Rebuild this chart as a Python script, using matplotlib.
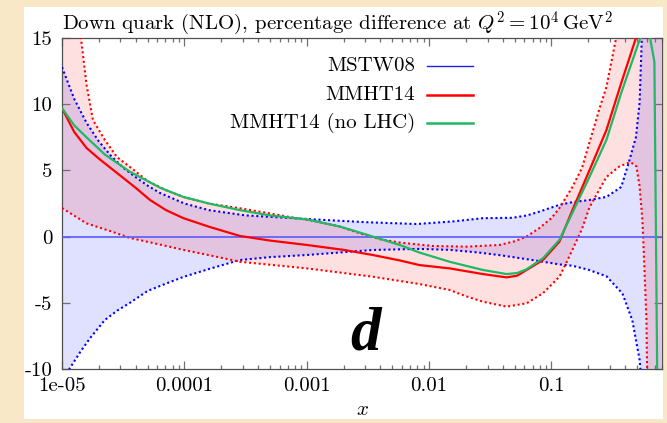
import numpy as np
import matplotlib
matplotlib.use("Agg")
import matplotlib.pyplot as plt
from matplotlib.patches import Rectangle

# ---------------- data ----------------
# x positions are given as log10(x); y is the percentage difference.
# MSTW08 band
mstw_hi_lx = [-5.0, -4.9, -4.8, -4.7, -4.6, -4.5, -4.4, -4.3, -4.2, -4.0, -3.8, -3.5, -3.0,
              -2.5, -2.1, -1.8, -1.56, -1.32, -1.2, -1.098, -0.935, -0.83, -0.7, -0.55,
              -0.43, -0.37, -0.31, -0.28, -0.26, -0.22, -0.1]
mstw_hi_y = [12.8, 10.4, 8.6, 7.2, 6.1, 5.2, 4.5, 3.85, 3.3, 2.5, 2.0, 1.6, 1.33,
             1.08, 0.95, 1.15, 1.39, 1.42, 1.6, 1.89, 2.4, 2.6, 2.75, 3.0,
             3.75, 5.55, 7.5, 10.1, 15.5, 25.0, 40.0]
mstw_lo_lx = [-5.0, -4.94, -4.85, -4.77, -4.65, -4.55, -4.445, -4.3, -4.15, -4.01, -3.8,
              -3.547, -3.3, -3.0, -2.46, -2.08, -1.833, -1.6, -1.424, -1.155, -0.935,
              -0.83, -0.7, -0.55, -0.42, -0.34, -0.28, -0.265, -0.22, -0.1]
mstw_lo_y = [-11.0, -10.0, -8.7, -7.66, -6.3, -5.6, -5.0, -4.1, -3.55, -3.05, -2.45,
             -1.77, -1.55, -1.39, -1.01, -0.93, -1.0, -1.2, -1.4, -1.77, -2.1,
             -2.2, -2.5, -3.0, -4.3, -6.3, -9.3, -11.0, -30.0, -40.0]
mstw_lx = [-5.0, -0.1]
mstw_y = [0.0, 0.0]

# MMHT14 band
mmht_hi_lx = [-5.0, -4.845, -4.8, -4.747, -4.65, -4.55, -4.445, -4.3, -4.15, -4.01, -3.8,
              -3.547, -3.3, -3.14, -2.95, -2.73, -2.55, -2.4, -2.24, -1.97, -1.694,
              -1.424, -1.3, -1.204, -1.098, -1.0, -0.935, -0.829, -0.75, -0.69, -0.6,
              -0.551, -0.502, -0.461, -0.4, -0.1]
mmht_hi_y = [26.0, 15.0, 11.5, 8.8, 7.3, 6.0, 5.26, 4.2, 3.5, 3.0, 2.5,
             2.14, 1.75, 1.48, 1.2, 0.76, 0.2, -0.2, -0.45, -0.71, -0.76,
             -0.63, -0.35, 0.0, 0.65, 1.4, 2.15, 3.75, 5.2, 7.1, 9.9,
             11.3, 13.6, 15.5, 22.0, 40.0]
mmht_lo_lx = [-5.0, -4.8, -4.6, -4.445, -4.2, -4.01, -3.8, -3.547, -3.0, -2.46, -2.08,
              -1.833, -1.7, -1.56, -1.367, -1.204, -1.07, -0.935, -0.88, -0.829, -0.75,
              -0.69, -0.6, -0.551, -0.445, -0.363, -0.33, -0.306, -0.28, -0.257, -0.24,
              -0.224, -0.218, -0.2, -0.1]
mmht_lo_y = [2.16, 1.0, 0.4, -0.1, -0.6, -1.0, -1.4, -1.9, -2.4, -3.03, -3.58,
             -4.03, -4.5, -4.92, -5.29, -5.04, -4.28, -3.03, -2.0, -1.0, 0.6,
             2.2, 3.7, 4.5, 5.3, 5.6, 5.5, 5.3, 3.8, 1.25, -2.5,
             -6.3, -10.5, -30.0, -40.0]
# MMHT14 central
mmht_lx = [-5.0, -4.9, -4.8, -4.7, -4.55, -4.4, -4.28, -4.15, -4.01, -3.8, -3.547, -3.3,
           -3.0, -2.7, -2.46, -2.24, -2.08, -1.833, -1.56, -1.367, -1.28, -1.204, -1.07,
           -0.935, -0.918, -0.829, -0.69, -0.551, -0.43, -0.31, -0.26]
mmht_y = [9.7, 7.9, 6.7, 5.9, 4.8, 3.7, 2.76, 2.0, 1.4, 0.75, 0.05, -0.3,
          -0.63, -1.0, -1.39, -1.8, -2.15, -2.4, -2.83, -3.08, -2.95, -2.52, -1.77,
          -0.38, 0.0, 2.0, 5.0, 8.05, 11.6, 15.0, 18.0]
# MMHT14 (no LHC) central
nolhc_lx = [-5.0, -4.9, -4.8, -4.65, -4.445, -4.2, -4.01, -3.8, -3.547, -3.3, -3.0,
            -2.73, -2.6, -2.46, -2.24, -2.08, -1.833, -1.56, -1.367, -1.28, -1.204,
            -1.07, -0.935, -0.829, -0.69, -0.551, -0.43, -0.282, -0.24, -0.22, -0.2,
            -0.159, -0.137, -0.13]
nolhc_y = [9.7, 8.4, 7.5, 6.2, 4.9, 3.7, 3.0, 2.5, 2.0, 1.6, 1.3,
           0.76, 0.4, 0.0, -0.63, -1.2, -1.9, -2.52, -2.83, -2.75, -2.47,
           -1.64, -0.25, 1.8, 4.5, 7.3, 10.85, 14.8, 15.5, 16.5, 15.3,
           13.2, -9.5, -14.0]

xticks = [1e-5, 1e-4, 1e-3, 1e-2, 1e-1]
xticklabels = ["1e-05", "0.0001", "0.001", "0.01", "0.1"]
yticks = [-10, -5, 0, 5, 10, 15]
yticklabels = ["-10", "-5", "0", "5", "10", "15"]

labels = ["MSTW08", "MMHT14", "MMHT14 (no LHC)"]
title = r"Down quark (NLO), percentage difference at $Q^2 = 10^4\,\mathrm{GeV}^2$"


def X(lx):
    return np.power(10.0, np.asarray(lx))


# ---------------- style ----------------
plt.rcParams["mathtext.fontset"] = "cm"
plt.rcParams["font.family"] = ["cmr10", "DejaVu Serif"]
plt.rcParams["axes.unicode_minus"] = False
FS = 15

W, H = 667, 423
fig = plt.figure(figsize=(W / 100, H / 100), dpi=100, facecolor="#f8e8c8")
panel = Rectangle((24 / W, 1 - 419 / H), 639 / W, 412 / H,
                  transform=fig.transFigure, facecolor="white",
                  edgecolor="none", zorder=-5)
fig.add_artist(panel)
ax = fig.add_axes([62 / W, 1 - 369 / H, 600 / W, 331 / H])
ax.set_zorder(1)
ax.set_facecolor("white")

blue = "#0000ff"
red = "#ff0000"
green = "#1fb864"

# bands
ax.fill(np.concatenate([X(mstw_hi_lx), X(mstw_lo_lx)[::-1]]),
        np.concatenate([mstw_hi_y, mstw_lo_y[::-1]]),
        color=blue, alpha=0.12, lw=0, zorder=1)
ax.fill(np.concatenate([X(mmht_hi_lx), X(mmht_lo_lx)[::-1]]),
        np.concatenate([mmht_hi_y, mmht_lo_y[::-1]]),
        color=red, alpha=0.12, lw=0, zorder=1)

dot = (0, (1, 1.3))
ax.plot(X(mstw_hi_lx), mstw_hi_y, color=blue, lw=1.5, ls=dot, zorder=3)
ax.plot(X(mstw_lo_lx), mstw_lo_y, color=blue, lw=1.5, ls=dot, zorder=3)
ax.plot(X(mmht_hi_lx), mmht_hi_y, color=red, lw=1.5, ls=dot, zorder=3)
ax.plot(X(mmht_lo_lx), mmht_lo_y, color=red, lw=1.5, ls=dot, zorder=3)

ax.plot(X(mstw_lx), mstw_y, color="#5a5aff", lw=1.2, zorder=4)
ax.plot(X(mmht_lx), mmht_y, color=red, lw=1.6, zorder=5)
ax.plot(X(nolhc_lx), nolhc_y, color=green, lw=1.6, zorder=6)

ax.set_xscale("log")
ax.set_xlim(1e-5, 0.8)
ax.set_ylim(-10, 15)
ax.set_xticks(xticks)
ax.set_xticklabels(xticklabels)
ax.set_yticks(yticks)
ax.set_yticklabels(yticklabels)
ax.xaxis.set_minor_locator(matplotlib.ticker.LogLocator(base=10, subs=np.arange(2, 10)))
ax.xaxis.set_minor_formatter(matplotlib.ticker.NullFormatter())
ax.tick_params(axis="both", which="both", direction="in", top=True, right=True,
               color="#707070", labelsize=FS, width=0.9)
ax.tick_params(axis="both", which="major", length=6)
ax.tick_params(axis="both", which="minor", length=3)
ax.tick_params(axis="x", pad=6)
ax.tick_params(axis="y", pad=7)
for s in ax.spines.values():
    s.set_color("#505050")
    s.set_linewidth(0.9)

ax.set_xlabel(r"$x$", fontsize=FS, labelpad=4)
ax.set_title(title, fontsize=FS, loc="left", pad=5)

# legend (manual, gnuplot style)
leg_colors = ["#2020e0", red, green]
leg_lw = [1.0, 1.8, 1.8]
for i, (lab, c, lw) in enumerate(zip(labels, leg_colors, leg_lw)):
    yy = 0.915 - i * 0.086
    ax.text(0.588, yy, lab, transform=ax.transAxes, ha="right", va="center",
            fontsize=FS, zorder=10)
    ax.plot([0.608, 0.685], [yy, yy], transform=ax.transAxes, color=c, lw=lw,
            zorder=10)

ax.text(3.0e-3, -8.56, "d", fontsize=44, fontweight="bold", fontstyle="italic",
        family=["Liberation Serif", "DejaVu Serif"], ha="center", va="baseline",
        zorder=10)

fig.savefig("out.png", dpi=100, facecolor=fig.get_facecolor())
